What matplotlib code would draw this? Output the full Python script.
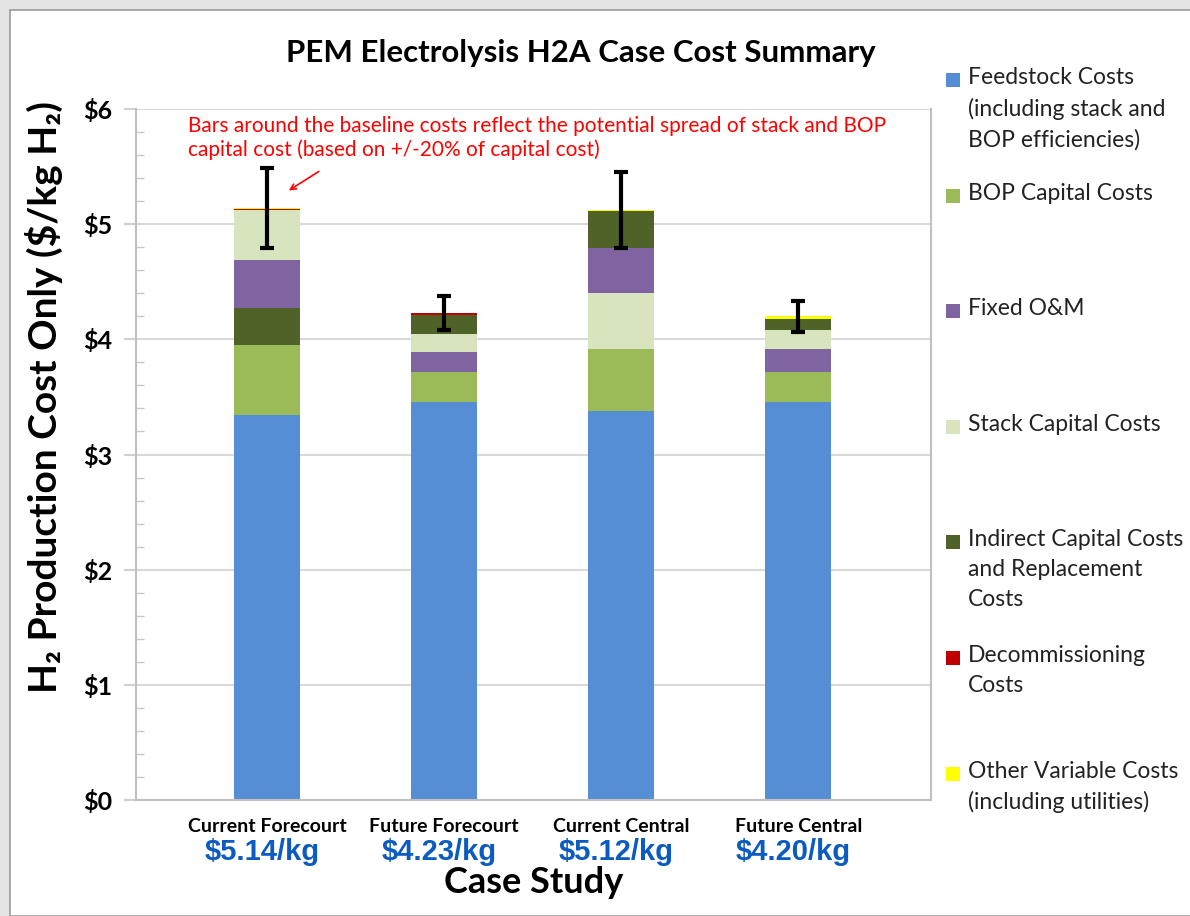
import matplotlib
matplotlib.use("Agg")
import matplotlib.pyplot as plt
from matplotlib.patches import Rectangle
from matplotlib.ticker import MultipleLocator, FuncFormatter

plt.rcParams['font.family'] = ['Lato', 'DejaVu Sans']

########## DATA ##########
cases = ["Current Forecourt", "Future Forecourt", "Current Central", "Future Central"]
case_totals = ["$5.14/kg", "$4.23/kg", "$5.12/kg", "$4.20/kg"]

components = ["Feedstock Costs\n(including stack and\nBOP efficiencies)",
              "BOP Capital Costs",
              "Fixed O&M",
              "Stack Capital Costs",
              "Indirect Capital Costs\nand Replacement\nCosts",
              "Decommissioning\nCosts",
              "Other Variable Costs\n(including utilities)"]
colors = ["#558ED5", "#9BBB59", "#8064A2", "#D7E4BD", "#4F6228", "#C00000", "#FFFF00"]

feedstock = [3.34, 3.46, 3.38, 3.46]
bop_capital = [0.61, 0.26, 0.54, 0.26]
fixed_om = [0.42, 0.17, 0.39, 0.20]
stack_capital = [0.43, 0.16, 0.48, 0.16]
indirect = [0.32, 0.16, 0.32, 0.10]
decommissioning = [0.012, 0.015, 0.0, 0.0]
other_variable = [0.008, 0.005, 0.01, 0.02]
values = [feedstock, bop_capital, fixed_om, stack_capital, indirect,
          decommissioning, other_variable]

# stacking order (bottom -> top) differs per bar in the original chart
stack_order = [[0, 1, 4, 2, 3, 5, 6],
               [0, 1, 2, 3, 4, 5, 6],
               [0, 1, 3, 2, 4, 5, 6],
               [0, 1, 2, 3, 4, 5, 6]]

# +/-20% capital cost spread
err_low = [4.79, 4.085, 4.79, 4.06]
err_high = [5.49, 4.38, 5.45, 4.33]

########## FIGURE ##########
fig = plt.figure(figsize=(11.9, 9.16), dpi=100)
fig.patch.set_facecolor("#e4e4e4")
fig.patches.append(Rectangle((10 / 1190, 0), 1, 1 - 10 / 916, transform=fig.transFigure,
                             facecolor="white", edgecolor="#9a9a9a", lw=1.2, zorder=-1))

ax = fig.add_axes([136 / 1190, 1 - 800 / 916, (931 - 136) / 1190, (800 - 109) / 916])
ax.set_facecolor("none")

width = 0.37
for i in range(len(cases)):
    bottom = 0
    for k in stack_order[i]:
        v = values[k][i]
        ax.bar(i, v, width, bottom=bottom, color=colors[k], lw=0, zorder=2)
        bottom += v

mid = [(lo + hi) / 2 for lo, hi in zip(err_low, err_high)]
ax.errorbar(range(len(cases)), mid,
            yerr=[[m - lo for m, lo in zip(mid, err_low)], [hi - m for m, hi in zip(mid, err_high)]],
            fmt="none", ecolor="black", elinewidth=3, capsize=5, capthick=3, zorder=4)

ax.set_xlim(-0.74, 3.75)
ax.set_ylim(0, 6)
ax.yaxis.set_major_locator(MultipleLocator(1))
ax.yaxis.set_minor_locator(MultipleLocator(0.2))
ax.yaxis.set_major_formatter(FuncFormatter(lambda v, p: "${:.0f}".format(v)))
ax.grid(axis="y", color="#d9d9d9", lw=1.5, zorder=0)
ax.tick_params(axis="y", which="major", length=9, width=1.5, color="#d0d0d0", pad=8,
               labelsize=18)
ax.tick_params(axis="y", which="minor", direction="in", length=6, width=1, color="#c8c8c8")
for lab in ax.get_yticklabels():
    lab.set_fontweight("bold")
ax.set_xticks(range(len(cases)))
ax.set_xticklabels(cases, fontsize=14, fontweight="bold")
ax.tick_params(axis="x", length=0, pad=13)

for s in ["left", "bottom", "right"]:
    ax.spines[s].set_color("#c0c0c0")
    ax.spines[s].set_linewidth(1.5)
ax.spines["top"].set_visible(False)

for i, t in enumerate(case_totals):
    ax.text(i - 0.03, -0.075, t, transform=ax.get_xaxis_transform(), ha="center", va="center",
            fontsize=21, fontweight="bold", color="#0B5BC0", family="Liberation Sans")

ax.set_xlabel("Case Study", fontsize=26, fontweight="bold")
ax.xaxis.set_label_coords(0.5, -0.095)
ax.set_ylabel("H\u2082 Production Cost Only ($/kg H\u2082)", fontsize=28, fontweight="bold")
ax.yaxis.set_label_coords(-0.092, 0.583)

ax.set_title("PEM Electrolysis H2A Case Cost Summary", fontsize=22.5, fontweight="bold", pad=34,
             x=0.56)

ax.text(188 / 1190, 1 - 116 / 916,
        "Bars around the baseline costs reflect the potential spread of stack and BOP\n"
        "capital cost (based on +/-20% of capital cost)",
        transform=fig.transFigure, color="red", fontsize=15, va="top", ha="left",
        linespacing=1.2)
ax.annotate("", xy=(0.11, 5.28), xytext=(0.305, 5.47),
            arrowprops=dict(arrowstyle="->", color="red", lw=1.2))

# legend laid out like the original (entries on a fixed pitch)
for j, (name, c) in enumerate(zip(components, colors)):
    ytop = 1 - (71 + j * 115.6) / 916
    fig.patches.append(Rectangle((946 / 1190, ytop - 16 / 916), 14 / 1190, 14 / 916,
                                 transform=fig.transFigure, facecolor=c, lw=0))
    fig.text(968 / 1190, ytop + 4 / 916, name, fontsize=16.5, va="top", ha="left",
             linespacing=1.52, color="#222222")

fig.savefig("out.png", dpi=100, facecolor=fig.get_facecolor())
